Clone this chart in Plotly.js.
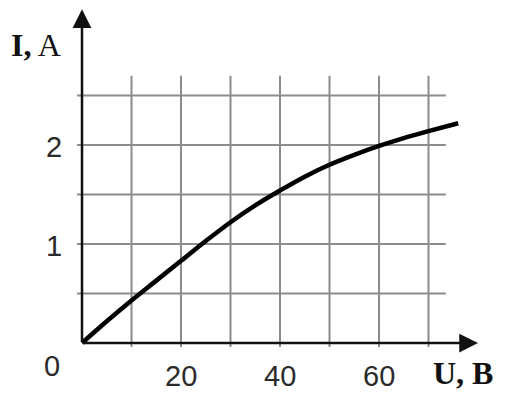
<!DOCTYPE html>
<html>
<head>
<meta charset="utf-8">
<script src="https://cdn.plot.ly/plotly-3.0.1.min.js"></script>
<style>html,body{margin:0;padding:0;background:#fff;}#chart{width:506px;height:400px;}</style>
</head>
<body>
<div id="chart"></div>
<script>
// Data
var voltage = [0, 5, 10, 15, 20, 25, 30, 35, 40, 45, 50, 55, 60, 65, 70, 76];
var current = [0, 0.22, 0.43, 0.63, 0.83, 1.03, 1.22, 1.39, 1.54, 1.68, 1.80, 1.90, 1.99, 2.07, 2.14, 2.22];
var gridU = [10, 20, 30, 40, 50, 60, 70];
var gridI = [0.5, 1, 1.5, 2, 2.5];
var xTickVals = [20, 40, 60];
var xTickText = ["20", "40", "60"];
var yTickVals = [1, 2];
var yTickText = ["1", "2"];
var xTitle = "<b>U, B</b>";
var yTitle = "<b>I,</b> A";
var originLabel = "0";

var numFont = {family: "Liberation Sans Narrow, Liberation Sans, Arial, sans-serif", size: 29, color: "#2a2a2a"};
var titleFont = {family: "Liberation Serif, Times New Roman, serif", size: 32, color: "#111"};
var gridStyle = {color: "#8c8c8c", width: 2};

var shapes = [];
gridU.forEach(function (u) {
  shapes.push({type: "line", xref: "x", yref: "y", x0: u, x1: u, y0: -0.04, y1: 2.7, line: gridStyle, layer: "below"});
});
gridI.forEach(function (v) {
  shapes.push({type: "line", xref: "x", yref: "y", x0: -1, x1: 73.5, y0: v, y1: v, line: gridStyle, layer: "below"});
});

var annotations = [];
// axes with arrows
annotations.push({x: 0, y: 3.37, ax: 0, ay: 0, xref: "x", yref: "y", axref: "x", ayref: "y",
  text: "", showarrow: true, arrowhead: 2, arrowsize: 1.5, arrowwidth: 2.5, arrowcolor: "#111"});
annotations.push({x: 80, y: 0, ax: 0, ay: 0, xref: "x", yref: "y", axref: "x", ayref: "y",
  text: "", showarrow: true, arrowhead: 2, arrowsize: 1.5, arrowwidth: 2.5, arrowcolor: "#111"});
xTickVals.forEach(function (v, i) {
  annotations.push({x: v, y: -0.335, xref: "x", yref: "y", text: xTickText[i], showarrow: false, font: numFont});
});
yTickVals.forEach(function (v, i) {
  annotations.push({x: -5.7, y: v - 0.02, xref: "x", yref: "y", text: yTickText[i], showarrow: false, font: numFont});
});
annotations.push({x: -6.1, y: -0.23, xref: "x", yref: "y", text: originLabel, showarrow: false, font: numFont});
annotations.push({x: -9.3, y: 3.01, xref: "x", yref: "y", text: yTitle, showarrow: false, font: titleFont});
annotations.push({x: 77, y: -0.30, xref: "x", yref: "y", text: xTitle, showarrow: false, font: titleFont});

var trace = {
  x: voltage, y: current, type: "scatter", mode: "lines",
  line: {color: "#000", width: 4.5, shape: "spline", smoothing: 1},
  hoverinfo: "skip", cliponaxis: false
};

var layout = {
  width: 506, height: 400,
  margin: {l: 0, r: 0, t: 0, b: 0, pad: 0},
  paper_bgcolor: "#fff", plot_bgcolor: "#fff",
  showlegend: false,
  xaxis: {range: [-82 / 4.95, 424 / 4.95], visible: false, fixedrange: true},
  yaxis: {range: [-57 / 99, 343 / 99], visible: false, fixedrange: true},
  shapes: shapes,
  annotations: annotations
};

Plotly.newPlot("chart", [trace], layout, {staticPlot: true, displayModeBar: false});
</script>
</body>
</html>
